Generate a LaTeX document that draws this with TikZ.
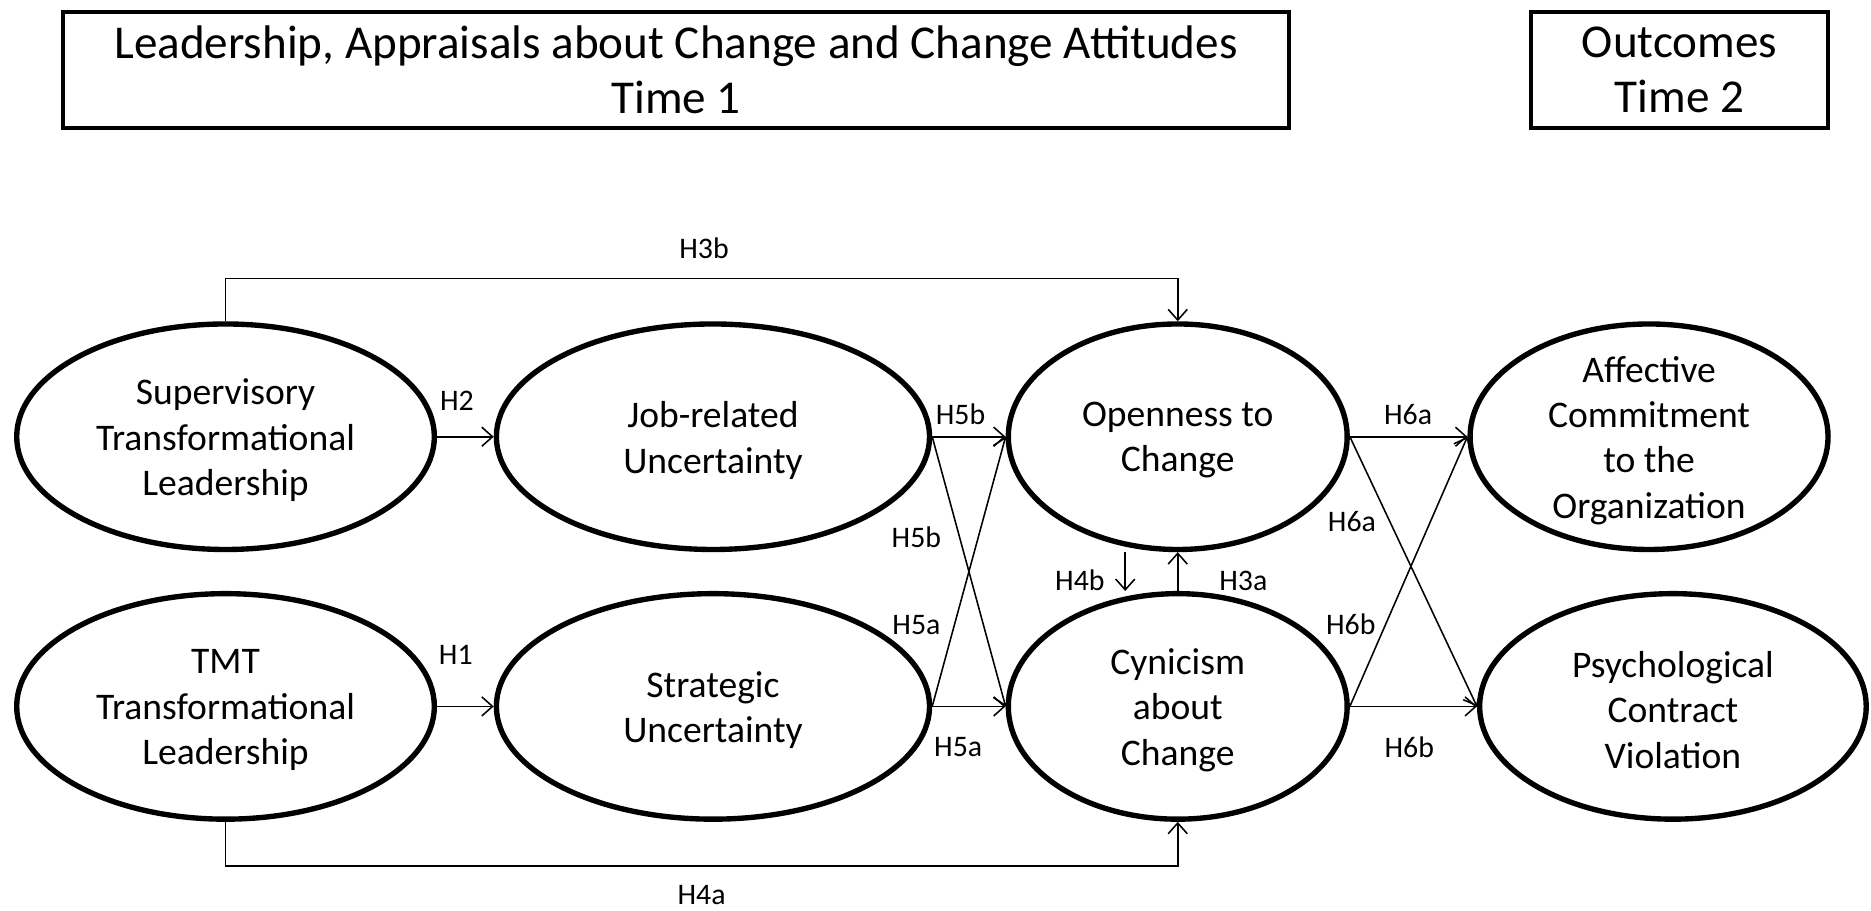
\documentclass[tikz,border=0pt]{standalone}
\usepackage{fontspec}
\setmainfont{Carlito}
\usetikzlibrary{shapes.geometric,arrows.meta}
\begin{document}
\begin{tikzpicture}[x=1pt,y=1pt,
  ell/.style={ellipse, draw, line width=4.5pt, minimum width=#1, minimum height=189pt, inner sep=0pt},
  etext/.style={font=\fontsize{31.5}{38}\selectfont, align=center, inner sep=0pt, yshift=-3pt},
  lab/.style={font=\fontsize{25}{30}\selectfont, inner sep=0pt},
  hdr/.style={draw, line width=3.5pt, minimum height=97.5pt, align=center, inner sep=0pt, font=\fontsize{39.5}{46}\selectfont},
  arr/.style={-{Straight Barb[length=9pt,width=16pt]}, line width=1.3pt}]
\useasboundingbox (0,0) rectangle (1568,-763);
\fill[white] (0,0) rectangle (1568,-763);
% headers
\node[hdr, minimum width=1027.5pt] (h1) at (566.5,-58.5) {Leadership, Appraisals about Change and Change Attitudes\\Time 1};
\node[hdr, minimum width=249.5pt] (h2) at (1407.5,-58.5) {Outcomes\\Time 2};
% ellipses
\node[ell=350pt] (sup) at (189,-366) {};
\node[ell=350pt] (tmt) at (189,-592) {};
\node[ell=363pt] (job) at (597.5,-366) {};
\node[ell=363pt] (str) at (597.5,-592) {};
\node[ell=284pt] (opn) at (987,-366) {};
\node[ell=284pt] (cyn) at (987,-592) {};
\node[ell=300pt] (aff) at (1382,-366) {};
\node[ell=324pt] (psy) at (1402,-592) {};
\node[etext] (tsup) at (sup) {Supervisory\\Transformational\\Leadership};
\node[etext] (ttmt) at (tmt) {TMT\\Transformational\\Leadership};
\node[etext] (tjob) at (job) {Job-related\\Uncertainty};
\node[etext] (tstr) at (str) {Strategic\\Uncertainty};
\node[etext] (topn) at (opn) {Openness to\\Change};
\node[etext] (tcyn) at (cyn) {Cynicism\\about\\Change};
\node[etext] (taff) at (aff) {Affective\\Commitment\\to the\\Organization};
\node[etext] (tpsy) at (psy) {Psychological\\Contract\\Violation};
% connectors
\draw[arr] (sup.north) -- ++(0,36) -| (opn.north);
\draw[arr] (tmt.south) -- ++(0,-37) -| (cyn.south);
\draw[arr] (sup.east) -- (job.west);
\draw[arr] (tmt.east) -- (str.west);
\draw[arr] (job.east) -- (opn.west);
\draw[arr] (job.east) -- (cyn.west);
\draw[arr] (str.east) -- (opn.west);
\draw[arr] (str.east) -- (cyn.west);
\draw[arr] ([xshift=-44pt]opn.south) -- ([xshift=-44pt]cyn.north);
\draw[arr] (cyn.north) -- (opn.south);
\draw[arr] (opn.east) -- (aff.west);
\draw[arr] (opn.east) -- (psy.west);
\draw[arr] (cyn.east) -- (aff.west);
\draw[arr] (cyn.east) -- (psy.west);
% labels
\node[lab] (l3b) at (590,-208) {H3b};
\node[lab] (l2) at (383,-336) {H2};
\node[lab] (l1) at (382,-549) {H1};
\node[lab] (l5b1) at (805,-347) {H5b};
\node[lab] (l5b2) at (768,-450) {H5b};
\node[lab] (l5a1) at (768,-524) {H5a};
\node[lab] (l5a2) at (803,-626) {H5a};
\node[lab] (l4b) at (905,-486) {H4b};
\node[lab] (l3a) at (1042,-487) {H3a};
\node[lab] (l4a) at (588,-750) {H4a};
\node[lab] (l6a1) at (1180,-347) {H6a};
\node[lab] (l6a2) at (1133,-437) {H6a};
\node[lab] (l6b1) at (1132,-523) {H6b};
\node[lab] (l6b2) at (1181,-626) {H6b};
\end{tikzpicture}
\end{document}
